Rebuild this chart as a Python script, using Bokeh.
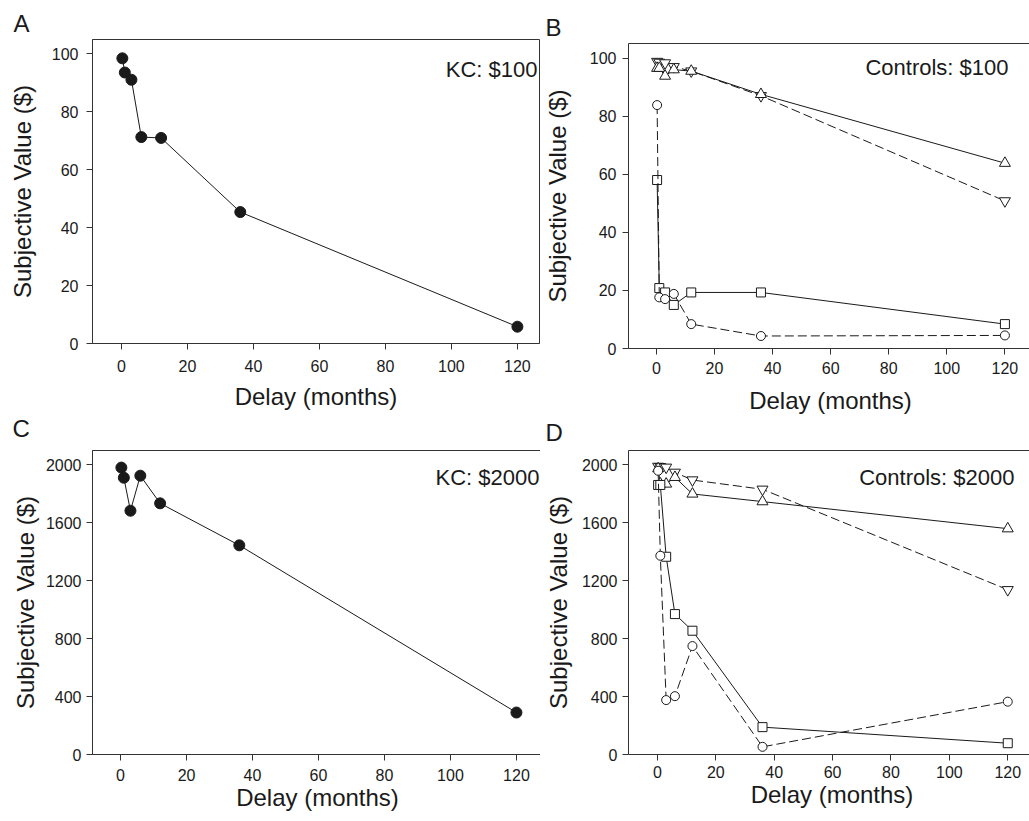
from bokeh.plotting import figure
from bokeh.models import Range1d, FixedTicker, Label, LinearAxis, Title
from bokeh.layouts import row, column
from bokeh.embed import file_html
from bokeh.resources import INLINE

# ---------------- data ----------------
delays = [0.25, 1, 3, 6, 12, 36, 120]          # months
x_ticks = [0, 20, 40, 60, 80, 100, 120]
y_ticks_100 = [0, 20, 40, 60, 80, 100]
y_ticks_2000 = [0, 400, 800, 1200, 1600, 2000]

# Panel A: KC, $100
kc_100 = [98.5, 93.6, 91.1, 71.3, 71.0, 45.4, 5.8]
# Panel C: KC, $2000
kc_2000 = [1982, 1912, 1684, 1926, 1735, 1445, 290]

# Panel B: controls, $100
ctrl100_circle = [83.8, 17.6, 17.0, 18.8, 8.4, 4.3, 4.5]
ctrl100_square = [58.0, 20.8, 19.3, 15.0, 19.3, 19.3, 8.4]
ctrl100_tri_up = [96.5, 96.5, 93.8, 96.0, 95.5, 87.5, 63.8]
ctrl100_tri_down = [98.8, 98.5, 98.3, 97.0, 95.5, 87.0, 50.8]

# Panel D: controls, $2000
ctrl2000_circle = [1960, 1373, 376, 403, 749, 53, 365]
ctrl2000_square = [1862, 1862, 1366, 970, 855, 189, 78]
ctrl2000_tri_up = [1975, 1870, 1869, 1915, 1800, 1747, 1560]
ctrl2000_tri_down = [1990, 1988, 1984, 1949, 1896, 1832, 1138]

FONT = "Liberation Sans"
INK = "#1a1a1a"
AX = "#333333"


def letter_title(text, offset, standoff):
    return Title(text=text, text_font=FONT, text_font_size="24px", text_font_style="normal",
                 text_color=INK, align="left", offset=offset, standoff=standoff)


def make_panel(letter, note, y_end, yticks, frame_w, frame_h, x_start, x_end,
               b_left, b_right, b_top, b_bottom,
               xs_tick, xs_label, ys_tick, ys_label,
               letter_off, note_xy, open_right, below_letter=None):
    p = figure(frame_width=frame_w, frame_height=frame_h,
               x_range=Range1d(x_start, x_end), y_range=Range1d(0, y_end),
               output_backend="svg", toolbar_location=None,
               min_border_left=b_left, min_border_right=b_right,
               min_border_top=b_top, min_border_bottom=b_bottom)
    p.grid.visible = False
    p.background_fill_color = "white"
    p.border_fill_color = "white"
    p.outline_line_color = None if open_right else AX
    p.outline_line_width = 1

    if letter:
        p.title = letter_title(letter, letter_off, 5)
    else:
        p.title.text = ""
        p.title.standoff = 0

    p.xaxis.ticker = FixedTicker(ticks=x_ticks)
    p.yaxis.ticker = FixedTicker(ticks=yticks)
    p.xaxis.axis_label = "Delay (months)"
    p.yaxis.axis_label = "Subjective Value ($)"
    for ax in (p.xaxis[0], p.yaxis[0]):
        ax.axis_label_text_font = FONT
        ax.axis_label_text_font_size = "24px"
        ax.axis_label_text_font_style = "normal"
        ax.axis_label_text_color = INK
        ax.major_label_text_font = FONT
        ax.major_label_text_font_size = "16px"
        ax.major_label_text_color = INK
        ax.major_tick_out = 6
        ax.major_tick_in = 0
        ax.minor_tick_out = 0
        ax.minor_tick_in = 0
        ax.axis_line_color = AX
        ax.major_tick_line_color = AX
    p.xaxis.major_label_standoff = xs_tick
    p.xaxis.axis_label_standoff = xs_label
    p.yaxis.major_label_standoff = ys_tick
    p.yaxis.axis_label_standoff = ys_label

    if open_right:
        top = LinearAxis(ticker=FixedTicker(ticks=[]), major_label_text_font_size="0px",
                         major_tick_out=0, major_tick_in=0, minor_tick_out=0, minor_tick_in=0,
                         axis_line_color=AX, axis_label=None)
        p.add_layout(top, "above")

    if below_letter:
        p.add_layout(letter_title(below_letter[0], below_letter[1], 0), "below")

    p.add_layout(Label(x=note_xy[0], y=note_xy[1], x_units="screen", y_units="screen",
                       text=note, text_font=FONT, text_font_size="22px",
                       text_color=INK, text_baseline="alphabetic", text_align="right"))
    return p


def add_series(p, ys, marker, dash, filled=False):
    p.line(delays, ys, line_color=INK, line_width=1, line_dash=dash)
    if filled:
        p.scatter(delays, ys, marker="circle", size=11, fill_color=INK, line_color=INK)
    else:
        size = {"circle": 9, "square": 9, "triangle": 11, "inverted_triangle": 11}[marker]
        p.scatter(delays, ys, marker=marker, size=size, fill_color="white",
                  line_color=INK, line_width=1)


DASH = "9 4"

# top-left (A) carries the "C" letter in its bottom margin; top-right (B) carries "D"
pA = make_panel("A", "KC: $100", 105, y_ticks_100, 447, 304, -8.8, 126.7,
                92, 1, 39, 97, 10, 8, 8, 13, -79, (445, 274), False,
                below_letter=("C", -80))
add_series(pA, kc_100, "circle", "solid", filled=True)

pC = make_panel(None, "KC: $2000", 2100, y_ticks_2000, 450, 304, -8.5, 127.9,
                89, 1, 9, 60, 8, 0, 5, 4, 0, (447, 277), False)
add_series(pC, kc_2000, "circle", "solid", filled=True)

pB = make_panel("B", "Controls: $100", 105, y_ticks_100, 404, 305, -9.6, 129.5,
                84, 1, 43, 96, 7, 10, 6, 16, -83, (380, 281), True,
                below_letter=("D", -83))
add_series(pB, ctrl100_tri_down, "inverted_triangle", DASH)
add_series(pB, ctrl100_tri_up, "triangle", "solid")
add_series(pB, ctrl100_square, "square", "solid")
add_series(pB, ctrl100_circle, "circle", DASH)

pD = make_panel(None, "Controls: $2000", 2100, y_ticks_2000, 407, 304, -9.9, 129.5,
                81, 1, 5, 60, 5, 0, 5, 7, 0, (386, 277), True)
add_series(pD, ctrl2000_tri_down, "inverted_triangle", DASH)
add_series(pD, ctrl2000_tri_up, "triangle", "solid")
add_series(pD, ctrl2000_square, "square", "solid")
add_series(pD, ctrl2000_circle, "circle", DASH)

layout = row(column(pA, pC, spacing=0), column(pB, pD, spacing=0), spacing=0)

open("out.html", "w").write(file_html(layout, INLINE))
